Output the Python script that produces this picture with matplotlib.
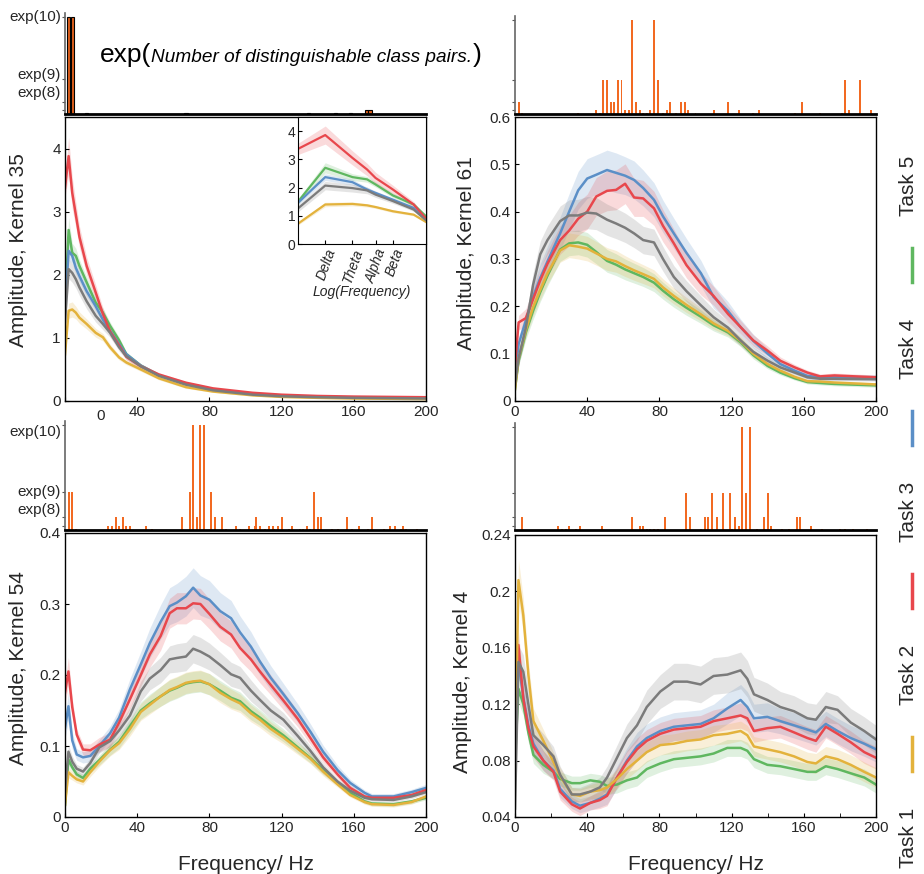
import numpy as np
import matplotlib
matplotlib.use("Agg")
import matplotlib.pyplot as plt
from matplotlib.lines import Line2D

plt.rcParams['font.family'] = ['Liberation Sans', 'DejaVu Sans']

W, H = 924, 874

tasks = ['Task 1', 'Task 2', 'Task 3', 'Task 4', 'Task 5']
colors = {'Task 1': '#7b7b7b', 'Task 2': '#e3b23c', 'Task 3': '#e8474c',
          'Task 4': '#5b8fc7', 'Task 5': '#5fb760'}
draw_order = ['Task 5', 'Task 4', 'Task 3', 'Task 2', 'Task 1']

# ---- Kernel 35 ----
k35_freq = [0, 2, 4, 6, 8, 12, 17, 21, 25, 30, 34, 42, 52, 67, 82, 104, 120, 140, 160, 180, 200]
k35 = {
    'Task 1': [1.25, 2.09, 2.03, 1.93, 1.80, 1.58, 1.35, 1.22, 1.08, 0.85, 0.71, 0.55, 0.40, 0.26, 0.17, 0.10, 0.075, 0.06, 0.05, 0.045, 0.04],
    'Task 2': [0.74, 1.43, 1.45, 1.40, 1.32, 1.22, 1.08, 1.01, 0.85, 0.69, 0.61, 0.50, 0.36, 0.22, 0.15, 0.09, 0.065, 0.05, 0.04, 0.035, 0.03],
    'Task 3': [3.38, 3.88, 3.30, 2.95, 2.60, 2.14, 1.72, 1.38, 1.10, 0.88, 0.70, 0.55, 0.42, 0.29, 0.20, 0.13, 0.10, 0.08, 0.07, 0.065, 0.06],
    'Task 4': [1.45, 2.38, 2.30, 2.11, 1.98, 1.74, 1.50, 1.29, 1.11, 0.90, 0.74, 0.56, 0.41, 0.27, 0.18, 0.11, 0.08, 0.065, 0.055, 0.05, 0.045],
    'Task 5': [1.45, 2.71, 2.35, 2.30, 2.14, 1.88, 1.56, 1.40, 1.19, 0.96, 0.74, 0.56, 0.41, 0.27, 0.18, 0.11, 0.08, 0.065, 0.055, 0.05, 0.045],
}
k35_sd = {
    'Task 1': [0.10, 0.15, 0.15, 0.14, 0.13, 0.12, 0.10, 0.09, 0.07, 0.06, 0.05, 0.04, 0.03, 0.02, 0.015, 0.01, 0.01, 0.01, 0.01, 0.01, 0.01],
    'Task 2': [0.05, 0.12, 0.12, 0.10, 0.09, 0.08, 0.07, 0.06, 0.05, 0.04, 0.035, 0.03, 0.025, 0.02, 0.015, 0.01, 0.01, 0.01, 0.01, 0.01, 0.01],
    'Task 3': [0.15, 0.30, 0.25, 0.20, 0.17, 0.14, 0.12, 0.10, 0.08, 0.06, 0.05, 0.04, 0.03, 0.02, 0.015, 0.01, 0.01, 0.01, 0.01, 0.01, 0.01],
    'Task 4': [0.08, 0.15, 0.12, 0.10, 0.09, 0.08, 0.07, 0.06, 0.05, 0.04, 0.035, 0.03, 0.025, 0.02, 0.015, 0.01, 0.01, 0.01, 0.01, 0.01, 0.01],
    'Task 5': [0.10, 0.20, 0.15, 0.12, 0.10, 0.09, 0.08, 0.07, 0.06, 0.05, 0.04, 0.03, 0.025, 0.02, 0.015, 0.01, 0.01, 0.01, 0.01, 0.01, 0.01],
}
k35_bar_f = [2, 4, 12, 67, 135, 150, 158, 167, 169]
k35_bar_n = [10, 10, 6, 6, 6, 6, 6, 7, 7]

# inset (log frequency)
band_freq = [1, 2, 4, 5.8, 7.2, 11.2, 19, 26]
band_ticks = [2, 4, 7.2, 11.3]
band_names = ['Delta', 'Theta', 'Alpha', 'Beta']
k35_band = {
    'Task 1': [1.26, 2.07, 1.98, 1.90, 1.75, 1.52, 1.22, 0.84],
    'Task 2': [0.72, 1.40, 1.42, 1.37, 1.31, 1.16, 1.04, 0.78],
    'Task 3': [3.37, 3.86, 3.05, 2.64, 2.34, 1.93, 1.40, 0.90],
    'Task 4': [1.46, 2.37, 2.19, 1.93, 1.81, 1.57, 1.28, 0.86],
    'Task 5': [1.50, 2.70, 2.37, 2.29, 2.11, 1.72, 1.40, 0.98],
}
k35_band_sd = {
    'Task 1': [0.12, 0.15, 0.14, 0.12, 0.10, 0.08, 0.06, 0.04],
    'Task 2': [0.05, 0.08, 0.07, 0.06, 0.05, 0.05, 0.04, 0.03],
    'Task 3': [0.20, 0.32, 0.25, 0.22, 0.20, 0.15, 0.10, 0.05],
    'Task 4': [0.08, 0.12, 0.10, 0.08, 0.07, 0.06, 0.05, 0.04],
    'Task 5': [0.10, 0.18, 0.12, 0.10, 0.09, 0.08, 0.06, 0.05],
}

# ---- Kernel 61 ----
k61_freq = [0, 2, 6, 10, 14, 18, 25, 30, 35, 40, 45, 51, 56, 61, 66, 71, 77, 82, 88, 95, 103, 110, 118, 125, 132, 140, 147, 155, 162, 169, 177, 200]
k61 = {
    'Task 1': [.035, .09, .155, .245, .31, .34, .38, .392, .392, .398, .396, .383, .375, .366, .354, .34, .335, .30, .262, .232, .202, .177, .155, .128, .104, .085, .071, .06, .05, .047, .047, .046],
    'Task 2': [.025, .09, .15, .198, .235, .27, .318, .329, .326, .322, .312, .30, .295, .285, .276, .268, .258, .24, .222, .203, .183, .164, .148, .127, .10, .078, .064, .051, .042, .041, .039, .035],
    'Task 3': [.075, .166, .175, .215, .255, .29, .34, .36, .385, .40, .432, .444, .446, .459, .43, .428, .407, .37, .333, .287, .248, .222, .184, .156, .128, .106, .085, .071, .06, .052, .054, .05],
    'Task 4': [.05, .12, .17, .22, .26, .295, .354, .40, .445, .47, .478, .488, .482, .476, .467, .45, .425, .39, .354, .313, .27, .22, .19, .156, .127, .10, .078, .064, .053, .05, .05, .05],
    'Task 5': [.025, .085, .145, .19, .23, .265, .32, .333, .335, .33, .315, .296, .288, .278, .27, .262, .25, .233, .215, .197, .178, .16, .145, .124, .097, .074, .06, .048, .04, .038, .036, .033],
}
k61_sd = {
    'Task 1': [.008, .015, .02, .025, .028, .03, .032, .033, .034, .034, .034, .033, .032, .031, .03, .029, .028, .026, .024, .022, .02, .017, .014, .012, .01, .008, .006, .005, .004, .004, .004, .004],
    'Task 2': [.005, .01, .015, .018, .02, .022, .025, .026, .026, .026, .025, .024, .023, .022, .021, .02, .019, .018, .017, .016, .014, .012, .01, .009, .008, .006, .005, .004, .004, .004, .004, .004],
    'Task 3': [.01, .015, .02, .022, .025, .027, .03, .032, .035, .037, .04, .042, .042, .042, .04, .038, .036, .034, .03, .027, .024, .02, .017, .014, .012, .01, .008, .006, .005, .005, .005, .005],
    'Task 4': [.01, .015, .02, .025, .03, .032, .035, .038, .04, .042, .042, .042, .042, .04, .04, .038, .036, .034, .032, .03, .027, .024, .02, .017, .014, .011, .009, .007, .006, .006, .006, .006],
    'Task 5': [.005, .01, .015, .018, .02, .022, .025, .026, .026, .026, .025, .024, .023, .022, .021, .02, .019, .018, .017, .016, .014, .012, .01, .009, .008, .006, .005, .004, .004, .004, .004, .004],
}
k61_bar_f = [65, 77, 49, 51, 57, 59, 79, 183, 191, 2, 53, 55, 67, 86, 92, 94, 118, 159,
             45, 61, 63, 69, 75, 84, 96, 110, 124, 135, 185, 197,
             4, 35, 47, 71, 73, 82, 89, 100, 132, 155, 169, 181]
k61_bar_n = [10, 10, 9, 9, 9, 9, 9, 9, 9, 8, 8, 8, 8, 8, 8, 8, 8, 8,
             7, 7, 7, 7, 7, 7, 7, 7, 7, 7, 7, 7,
             6, 6, 6, 6, 6, 6, 6, 6, 6, 6, 6, 6]

# ---- Kernel 54 ----
k54_freq = [0, 1.9, 4, 6.5, 10, 14, 19, 25, 30, 36, 42, 47, 53, 58, 62, 67, 71, 75, 80, 86, 92, 97, 103, 108, 114, 121, 129, 136, 143, 151, 158, 166, 170, 182, 192, 200]
k54 = {
    'Task 1': [.036, .092, .078, .068, .064, .076, .098, .107, .122, .143, .177, .195, .207, .222, .224, .226, .237, .233, .226, .214, .201, .196, .178, .165, .150, .137, .114, .093, .070, .050, .037, .027, .025, .024, .029, .035],
    'Task 2': [.017, .063, .058, .053, .050, .063, .078, .094, .104, .124, .148, .158, .170, .179, .183, .189, .191, .192, .187, .175, .166, .160, .146, .137, .124, .112, .096, .082, .064, .046, .031, .021, .018, .017, .021, .029],
    'Task 3': [.175, .205, .155, .116, .095, .094, .102, .109, .133, .166, .200, .229, .255, .287, .294, .294, .301, .300, .286, .268, .257, .238, .222, .205, .186, .164, .138, .111, .084, .060, .041, .029, .027, .027, .031, .038],
    'Task 4': [.125, .156, .108, .088, .084, .086, .100, .118, .140, .180, .215, .245, .275, .297, .302, .311, .323, .312, .306, .290, .280, .260, .240, .219, .196, .173, .146, .120, .092, .066, .048, .034, .029, .029, .035, .041],
    'Task 5': [.017, .081, .070, .060, .055, .068, .080, .095, .106, .128, .150, .160, .170, .178, .182, .188, .190, .191, .187, .178, .168, .163, .149, .140, .128, .115, .098, .083, .066, .048, .034, .022, .019, .018, .022, .027],
}
k54_sd = {
    'Task 1': [.008, .01, .008, .006, .006, .007, .008, .008, .009, .011, .014, .016, .018, .019, .02, .02, .02, .02, .019, .018, .017, .016, .015, .013, .012, .01, .009, .007, .006, .004, .003, .003, .003, .003, .003, .003],
    'Task 2': [.005, .008, .006, .005, .005, .006, .007, .008, .009, .01, .012, .013, .014, .015, .015, .015, .015, .015, .015, .014, .014, .013, .012, .011, .01, .009, .008, .007, .006, .004, .003, .003, .003, .003, .003, .003],
    'Task 3': [.015, .02, .012, .008, .008, .009, .01, .01, .011, .013, .016, .018, .02, .021, .022, .022, .022, .022, .021, .02, .019, .018, .017, .016, .014, .013, .011, .009, .007, .005, .004, .003, .003, .003, .003, .004],
    'Task 4': [.015, .02, .012, .008, .008, .008, .009, .01, .012, .015, .018, .021, .024, .026, .027, .028, .028, .028, .027, .026, .025, .023, .021, .019, .017, .015, .013, .011, .009, .007, .005, .004, .004, .004, .004, .005],
    'Task 5': [.005, .008, .006, .005, .005, .006, .007, .008, .009, .01, .012, .013, .014, .015, .015, .015, .015, .015, .015, .014, .014, .013, .012, .011, .01, .009, .008, .007, .006, .004, .003, .003, .003, .003, .003, .003],
}
k54_bar_f = [71, 75, 77, 2, 4, 69, 81, 138,
             28, 32, 65, 73, 83, 87, 106, 120, 140, 142, 156, 170,
             24, 26, 30, 34, 36, 45, 95, 102, 105, 108, 113, 115, 118, 126, 134, 163, 180, 183, 187,
             6, 48, 89, 97, 111, 116, 124, 130, 132, 136, 148, 151, 159, 168, 177, 186, 189, 195]
k54_bar_n = [10, 10, 10, 9, 9, 9, 9, 9,
             8, 8, 8, 8, 8, 8, 8, 8, 8, 8, 8, 8,
             7, 7, 7, 7, 7, 7, 7, 7, 7, 7, 7, 7, 7, 7, 7, 7, 7, 7, 7,
             6, 6, 6, 6, 6, 6, 6, 6, 6, 6, 6, 6, 6, 6, 6, 6, 6, 6]

# ---- Kernel 4 ----
k4_freq = [0, 1.9, 4.6, 7.4, 10.2, 15.7, 21.3, 25, 31.5, 36, 41.7, 47, 51, 56.5, 62, 67.6, 73, 80.5, 88, 95.4, 102.8, 110, 117.6, 125, 128.7, 132.4, 139.8, 147, 154.6, 162, 166.7, 172.2, 178.7, 186, 193.5, 200]
k4 = {
    'Task 1': [.046, .150, .143, .120, .098, .091, .083, .070, .056, .056, .058, .061, .068, .082, .096, .105, .118, .129, .136, .136, .134, .140, .141, .144, .138, .127, .123, .118, .115, .110, .109, .118, .116, .107, .101, .095],
    'Task 2': [.070, .208, .183, .141, .108, .094, .079, .069, .056, .055, .058, .059, .061, .067, .074, .080, .086, .091, .092, .094, .095, .098, .099, .101, .098, .090, .088, .086, .083, .079, .078, .083, .081, .077, .072, .068],
    'Task 3': [.091, .162, .124, .103, .090, .080, .072, .058, .049, .046, .050, .052, .055, .068, .079, .088, .094, .099, .102, .103, .104, .108, .110, .112, .110, .101, .103, .104, .100, .096, .094, .104, .099, .093, .086, .082],
    'Task 4': [.090, .150, .125, .105, .092, .080, .073, .060, .051, .048, .050, .053, .056, .068, .080, .090, .096, .101, .104, .105, .106, .110, .117, .123, .118, .110, .111, .108, .105, .102, .100, .106, .101, .096, .092, .088],
    'Task 5': [.080, .131, .120, .100, .084, .077, .072, .067, .064, .064, .066, .065, .062, .063, .066, .068, .074, .078, .081, .082, .083, .085, .089, .089, .087, .081, .077, .076, .074, .072, .072, .076, .074, .071, .068, .063],
}
k4_sd = {
    'Task 1': [.005, .012, .012, .010, .009, .008, .007, .006, .005, .005, .006, .007, .008, .009, .010, .011, .012, .012, .013, .013, .013, .013, .013, .013, .013, .012, .012, .011, .011, .011, .011, .011, .010, .010, .010, .010],
    'Task 2': [.005, .015, .012, .010, .009, .008, .007, .006, .005, .005, .005, .006, .006, .007, .007, .007, .007, .007, .007, .007, .007, .007, .007, .007, .007, .007, .007, .007, .007, .007, .007, .007, .007, .007, .007, .007],
    'Task 3': [.005, .010, .010, .009, .008, .007, .006, .006, .005, .005, .005, .006, .007, .007, .008, .008, .008, .008, .008, .008, .008, .008, .008, .009, .009, .008, .008, .008, .008, .008, .008, .008, .008, .008, .008, .008],
    'Task 4': [.005, .010, .010, .009, .008, .007, .006, .006, .005, .005, .005, .006, .007, .008, .009, .010, .010, .010, .010, .010, .010, .010, .011, .011, .011, .010, .010, .009, .009, .009, .009, .009, .009, .009, .009, .009],
    'Task 5': [.005, .010, .008, .007, .006, .006, .005, .005, .005, .005, .005, .005, .006, .006, .006, .006, .006, .006, .006, .006, .006, .006, .006, .006, .006, .006, .006, .006, .006, .006, .006, .006, .006, .006, .006, .006],
}
k4_bar_f = [126, 130, 95, 109, 115, 119, 128, 140,
            4, 65, 83, 97, 105, 107, 112, 122, 138, 156, 158,
            24, 30, 36, 48, 69, 71, 124, 142, 164,
            26, 28, 34, 73, 75, 77, 79, 103, 120, 134, 148, 152, 170, 180, 183, 187, 195]
k4_bar_n = [10, 10, 9, 9, 9, 9, 9, 9,
            8, 8, 8, 8, 8, 8, 8, 8, 8, 8, 8,
            7, 7, 7, 7, 7, 7, 7, 7, 7,
            6, 6, 6, 6, 6, 6, 6, 6, 6, 6, 6, 6, 6, 6, 6, 6, 6]

bar_labels = ['exp(10)', 'exp(9)', 'exp(8)']

BAR = '#f26a22'
TXT = '#262626'

fig = plt.figure(figsize=(W / 100, H / 100), dpi=100)


def rect(l, t, r, b):
    return [l / W, 1 - b / H, (r - l) / W, (b - t) / H]


def curves(ax, freq, data, sd, lw=1.8):
    for t in draw_order:
        m = np.array(data[t])
        s = np.array(sd[t])
        ax.fill_between(freq, m - s, m + s, color=colors[t], alpha=0.2, lw=0)
        ax.plot(freq, m, color=colors[t], lw=lw)


def main_axes(r, ylim, yticks, ylabels, label, label_xy, minor=False):
    ax = fig.add_axes(r)
    ax.set_xlim(0, 200)
    ax.set_ylim(*ylim)
    ax.set_xticks([0, 40, 80, 120, 160, 200])
    if minor:
        ax.set_xticks([20, 60, 100, 140, 180], minor=True)
    ax.set_yticks(yticks)
    ax.set_yticklabels(ylabels)
    ax.tick_params(direction='in', length=3, labelsize=11, labelcolor=TXT, pad=3)
    ax.tick_params(which='minor', direction='in', length=3)
    for s in ax.spines.values():
        s.set_linewidth(1.0)
    ax.set_ylabel(label, fontsize=15, color=TXT)
    ax.yaxis.set_label_coords(*label_xy)
    return ax


def bar_axes(r, f, n, edged=False):
    ax = fig.add_axes(r)
    if edged:
        ax.bar(f, np.exp(n), width=1.8, color='#e0601c', edgecolor='k', linewidth=0.8)
    else:
        ax.bar(f, np.exp(n), width=1.1, color=BAR, linewidth=0)
    ax.set_xlim(0, 200)
    ax.set_ylim(200, 22900)
    ax.set_xticks([])
    ax.set_yticks(np.exp([10, 9, 8, 7]))
    ax.set_yticklabels([])
    ax.tick_params(axis='y', direction='out', length=2, width=0.8, color='#555')
    ax.spines['top'].set_visible(False)
    ax.spines['right'].set_visible(False)
    ax.spines['left'].set_color('#666')
    ax.spines['left'].set_linewidth(1.2)
    ax.spines['bottom'].set_linewidth(2.0)
    ax.patch.set_alpha(0)
    return ax


def bar_label_text(ys):
    for lab, y in zip(bar_labels, ys):
        fig.text(61 / W, 1 - y / H, lab, fontsize=11, color=TXT, ha='right', va='center')


# top-left
bar_axes(rect(65, 13, 426, 114), k35_bar_f, k35_bar_n, edged=True)
bar_label_text([17, 75, 93])
axA = main_axes(rect(65, 117, 426, 401), (0, 4.5), [0, 1, 2, 3, 4],
                ['0', '1', '2', '3', '4'], 'Amplitude, Kernel 35', (-0.102, 0.53))
axA.set_xticklabels(['', '40', '80', '120', '160', '200'])
curves(axA, k35_freq, k35, k35_sd)
fig.text(101 / W, 1 - 416 / H, '0', fontsize=11, color=TXT, ha='center', va='center')

axI = fig.add_axes(rect(298, 117, 426, 244))
curves(axI, band_freq, k35_band, k35_band_sd, lw=1.6)
axI.set_xscale('log')
axI.set_xlim(1, 26)
axI.set_ylim(0, 4.5)
axI.set_xticks(band_ticks)
axI.set_xticklabels(band_names, rotation=70, ha='right', rotation_mode='anchor',
                    fontstyle='italic', fontsize=10.5, color=TXT)
axI.xaxis.set_minor_locator(matplotlib.ticker.NullLocator())
axI.set_yticks([0, 1, 2, 3, 4])
axI.tick_params(direction='in', length=3, labelsize=10, labelcolor=TXT, pad=2)
axI.set_xlabel('Log(Frequency)', fontstyle='italic', fontsize=10, color=TXT, labelpad=0)

# top-right
bar_axes(rect(515, 16, 876, 114), k61_bar_f, k61_bar_n)
axB = main_axes(rect(515, 117, 876, 401), (0, 0.6), [0, .1, .2, .3, .4, .5, .6],
                ['0', '0.1', '0.2', '0.3', '0.4', '0.5', '0.6'], 'Amplitude, Kernel 61',
                (-0.108, 0.52))
curves(axB, k61_freq, k61, k61_sd)

# bottom-left
bar_axes(rect(65, 421, 426, 530), k54_bar_f, k54_bar_n)
bar_label_text([432, 492, 510])
axC = main_axes(rect(65, 533, 426, 817), (0, 0.4), [0, .1, .2, .3, .4],
                ['0', '0.1', '0.2', '0.3', '0.4'], 'Amplitude, Kernel 54', (-0.102, 0.525))
curves(axC, k54_freq, k54, k54_sd)
axC.set_xlabel('Frequency/ Hz', fontsize=15, color=TXT, labelpad=14)

# bottom-right
bar_axes(rect(515, 423, 876, 530), k4_bar_f, k4_bar_n)
axD = main_axes(rect(515, 535, 876, 817), (0.04, 0.24), [.04, .08, .12, .16, .2, .24],
                ['0.04', '0.08', '0.12', '0.16', '0.2', '0.24'], 'Amplitude, Kernel 4',
                (-0.12, 0.48), minor=True)
curves(axD, k4_freq, k4, k4_sd)
axD.set_xlabel('Frequency/ Hz', fontsize=15, color=TXT, labelpad=14)

# title made of three pieces
fig.canvas.draw()
rend = fig.canvas.get_renderer()
ty = 1 - 62 / H
t1 = fig.text(100 / W, ty, 'exp(', fontsize=19, color='k', va='baseline')
x1 = t1.get_window_extent(rend).x1
t2 = fig.text(x1 / W, ty, 'Number of distinguishable class pairs.', fontsize=13.7,
              fontstyle='italic', color='k', va='baseline')
x2 = t2.get_window_extent(rend).x1
fig.text(x2 / W, ty, ')', fontsize=19, color='k', va='baseline')

# vertical legend on the right (rotated horizontal legend)
for i, t in enumerate(tasks):
    yc = 838 - i * 163
    fig.add_artist(Line2D([912 / W, 912 / W], [1 - (yc + 96) / H, 1 - (yc + 62) / H],
                          color=colors[t], lw=2.5, transform=fig.transFigure))
    fig.text(909 / W, 1 - yc / H, t, rotation=90, fontsize=15, color=TXT,
             ha='center', va='center')

fig.savefig('out.png', dpi=100)
